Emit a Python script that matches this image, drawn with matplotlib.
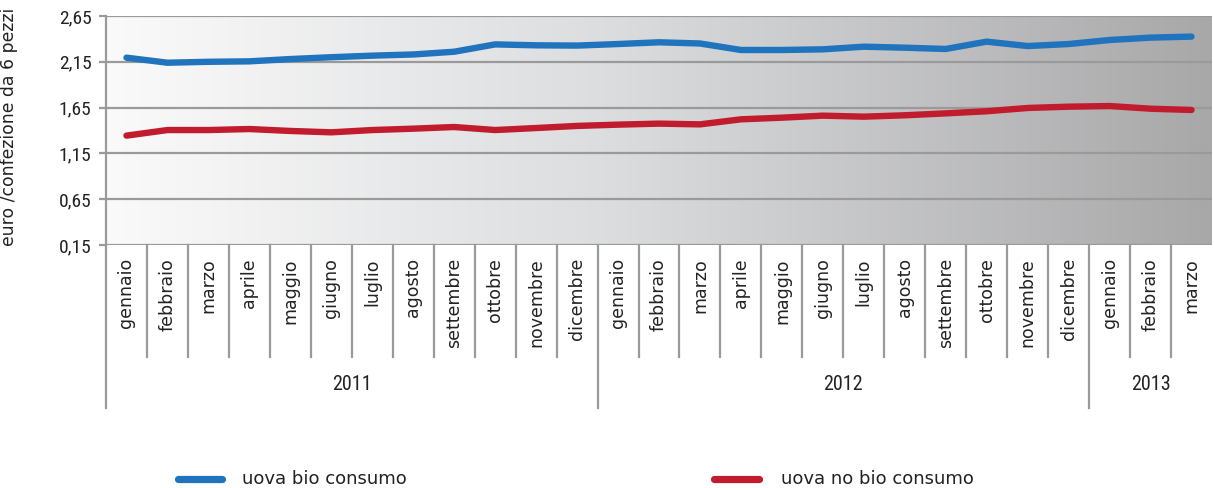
import matplotlib
matplotlib.use("Agg")
import matplotlib.pyplot as plt
import numpy as np
from matplotlib.colors import LinearSegmentedColormap
from matplotlib.lines import Line2D
import matplotlib.transforms as mtransforms
from matplotlib import font_manager

# ---------------- data ----------------
months = ["gennaio", "febbraio", "marzo", "aprile", "maggio", "giugno", "luglio",
          "agosto", "settembre", "ottobre", "novembre", "dicembre",
          "gennaio", "febbraio", "marzo", "aprile", "maggio", "giugno", "luglio",
          "agosto", "settembre", "ottobre", "novembre", "dicembre",
          "gennaio", "febbraio", "marzo"]
years = ["2011", "2012", "2013"]
year_counts = [12, 12, 3]

bio = [2.195, 2.14, 2.15, 2.155, 2.18, 2.20, 2.217, 2.23, 2.26, 2.34, 2.33, 2.327,
       2.344, 2.363, 2.35, 2.279, 2.279, 2.286, 2.315, 2.304, 2.29, 2.37, 2.322,
       2.344, 2.388, 2.414, 2.425]
nobio = [1.344, 1.405, 1.405, 1.416, 1.395, 1.38, 1.405, 1.42, 1.438, 1.405, 1.427, 1.45,
         1.464, 1.475, 1.467, 1.522, 1.54, 1.562, 1.551, 1.566, 1.587, 1.61, 1.646,
         1.66, 1.667, 1.638, 1.624]
series_names = ["uova bio consumo", "uova no bio consumo"]
yticks = [0.15, 0.65, 1.15, 1.65, 2.15, 2.65]
ylabel = "euro /confezione da 6 pezzi"

# ---------------- style ----------------
avail = {f.name for f in font_manager.fontManager.ttflist}
cond = "DejaVu Sans"
for cand in ["Roboto Condensed", "Liberation Sans Narrow", "DejaVu Sans Condensed"]:
    if cand in avail:
        cond = cand
        break
WIDE = ["DejaVu Sans"]
COND = [cond, "DejaVu Sans"]
plt.rcParams["font.family"] = WIDE

BLUE = "#1f74bd"
RED = "#c01c2e"
GRID = "#9a9a9a"
TXT = "#222222"

W, H = 1214, 488
fig = plt.figure(figsize=(W / 100, H / 100), dpi=100)
L, R, T, B = 106, 1212, 16, 245
ax = fig.add_axes([L / W, 1 - B / H, (R - L) / W, (B - T) / H])

n = len(months)
x = np.arange(n)
ax.set_xlim(-0.5, n - 0.5)
ax.set_ylim(yticks[0], yticks[-1])

# gradient background
cmap = LinearSegmentedColormap.from_list(
    "bg", [(0, "#fafafa"), (0.45, "#dcdddf"), (1, "#a8a8a9")])
grad = np.linspace(0, 1, 512).reshape(1, -1)
ax.imshow(grad, cmap=cmap, aspect="auto", extent=[0, 1, 0, 1],
          transform=ax.transAxes, zorder=0, interpolation="bicubic")

# grid
for yt in yticks:
    ax.axhline(yt, color=GRID, lw=1.6, zorder=1)

ax.plot(x, bio, color=BLUE, lw=4.6, solid_capstyle="round", solid_joinstyle="round", zorder=3)
ax.plot(x, nobio, color=RED, lw=4.6, solid_capstyle="round", solid_joinstyle="round", zorder=3)

for s in ["top", "right", "bottom"]:
    ax.spines[s].set_visible(False)
ax.spines["left"].set_color(GRID)
ax.spines["left"].set_linewidth(1.6)
ax.set_yticks(yticks)
ax.set_yticklabels([f"{v:.2f}".replace(".", ",") for v in yticks], fontsize=14,
                   color=TXT, family=COND)
ax.tick_params(axis="y", length=5, width=1.6, color=GRID, pad=5.5)
ax.set_xticks([])
ax.set_ylabel(ylabel, fontsize=12.4, color=TXT)
ax.yaxis.set_label_coords(-(L - 18) / (R - L), 1 - (126.5 - T) / (B - T))

trans = mtransforms.blended_transform_factory(ax.transData, ax.transAxes)
hpx = B - T
sep_short = -(357 - B) / hpx
sep_long = -(408 - B) / hpx

# month separators and labels
year_edges = np.cumsum([0] + year_counts)
for i in range(n):
    xb = i - 0.5
    yend = sep_long if i in year_edges else sep_short
    ax.plot([xb, xb], [0, yend], color=GRID, lw=1.6, transform=trans, clip_on=False)
for i, m in enumerate(months):
    ax.text(i, -13 / hpx, m, rotation=90, ha="center", va="top", fontsize=12.5,
            color=TXT, transform=trans)
for k, yname in enumerate(years):
    cx = (year_edges[k] + year_edges[k + 1]) / 2 - 0.5
    ax.text(cx, -(385 - B) / hpx, yname, ha="center", va="center", fontsize=14.5,
            color=TXT, transform=trans, family=COND)

# legend
leg = [(178, 222, 242, BLUE, series_names[0]), (714, 759, 781, RED, series_names[1])]
for x0, x1, xt, c, lab in leg:
    yy = 1 - 479 / H
    fig.add_artist(Line2D([x0 / W, x1 / W], [yy, yy], color=c, lw=5.2,
                          solid_capstyle="round", transform=fig.transFigure))
    fig.text(xt / W, yy, lab, ha="left", va="center", fontsize=13, color=TXT)

fig.savefig("out.png", dpi=100)
